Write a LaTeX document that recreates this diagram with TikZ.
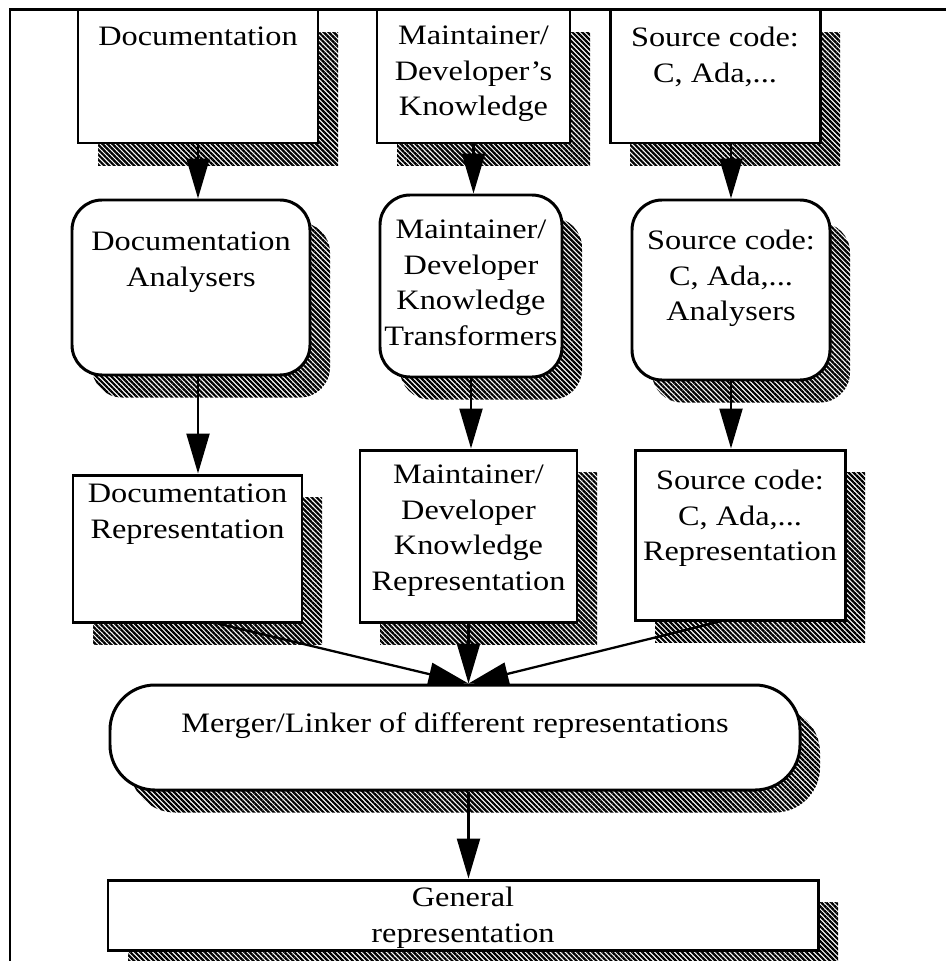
\documentclass[tikz,border=0pt]{standalone}
\usepackage{fontspec}
\setmainfont{Liberation Serif}[FakeStretch=1.15]
\usetikzlibrary{arrows.meta, positioning, shadows, patterns.meta}

\tikzset{
  hatch/.style={drop shadow={shadow xshift=0.4cm, shadow yshift=-0.45cm, opacity=1,
      pattern={Lines[angle=-45, distance=2pt, line width=1.25pt]}}},
  srcbox/.style={draw, line width=1.7pt, fill=white, hatch},
  toolbox/.style={srcbox, rounded corners=0.6cm},
  txt/.style={align=center, inner sep=0pt, font=\fontsize{16}{20.3}\selectfont},
  flow/.style={line width=1.3pt, -{Triangle[length=0.8cm, width=0.46cm]}}
}

\begin{document}
\begin{tikzpicture}
        \useasboundingbox (0,0) rectangle (18.92,-19.22);

        % Inputs
        \node[srcbox, minimum width=4.8cm, minimum height=2.66cm] (doc) at (3.96,-1.53) {};
        \node[srcbox, minimum width=3.86cm, minimum height=2.66cm] (mkn) at (9.47,-1.53) {};
        \node[srcbox, minimum width=4.2cm, minimum height=2.66cm] (src) at (14.3,-1.53) {};

        % frame
        \draw[line width=1.7pt] (0.2,-19.22) |- (18.92,-0.19);

        \node[txt, below=0.36cm of doc.north] (doct) {Documentation};
        \node[txt, below=0.34cm of mkn.north] (mknt) {Maintainer/\\Developer's\\Knowledge};
        \node[txt, below=0.36cm of src.north] (srct) {Source code:\\C, Ada,...};

        % Analysers
        \node[toolbox, minimum width=4.76cm, minimum height=3.5cm] (docan) at (3.82,-5.75) {};
        \node[toolbox, minimum width=3.64cm, minimum height=3.64cm] (mktr) at (9.42,-5.72) {};
        \node[toolbox, minimum width=3.96cm, minimum height=3.6cm] (srcan) at (14.62,-5.8) {};

        \node[txt, below=0.66cm of docan.north] (docant) {Documentation\\Analysers};
        \node[txt, below=0.52cm of mktr.north] (mktrt) {Maintainer/\\Developer\\Knowledge\\Transformers};
        \node[txt, below=0.62cm of srcan.north] (srcant) {Source code:\\C, Ada,...\\Analysers};

        % Representations
        \node[srcbox, minimum width=4.58cm, minimum height=2.94cm] (docrep) at (3.75,-10.97) {};
        \node[srcbox, minimum width=4.34cm, minimum height=3.44cm] (mkrep) at (9.37,-10.72) {};
        \node[srcbox, minimum width=4.2cm, minimum height=3.4cm] (srcrep) at (14.8,-10.7) {};

        \node[txt, below=0.2cm of docrep.north] (docrept) {Documentation\\Representation};
        \node[txt, below=0.32cm of mkrep.north] (mkrept) {Maintainer/\\Developer\\Knowledge\\Representation};
        \node[txt, below=0.42cm of srcrep.north] (srcrept) {Source code:\\C, Ada,...\\Representation};

        % Merger and result
        \node[srcbox, rounded corners=0.9cm, minimum width=13.8cm, minimum height=2.1cm] (merger) at (9.1,-14.75) {};
        \node[txt, below=0.58cm of merger.north] (mergert) {Merger/Linker of different representations};

        \node[srcbox, minimum width=14.2cm, minimum height=1.4cm] (gen) at (9.26,-18.3) {};
        \node[txt, below=0.16cm of gen.north] (gent) {General\\representation};

        % Arrows
        \draw[flow] (doc.south) -- (doc.south |- docan.north);
        \draw[flow] (mkn.south) -- (mkn.south |- mktr.north);
        \draw[flow] (srcan.north |- src.south) -- (srcan.north);

        \draw[flow] (doc.south |- docan.south) -- (doc.south |- docrep.north);
        \draw[flow] (mktr.south) -- (mktr.south |- mkrep.north);
        \draw[flow] (srcan.south) -- (srcan.south |- srcrep.north);

        \coordinate (join) at (mkrep.south |- merger.north);
        \draw[flow] ([xshift=0.6cm]docrep.south) -- (join);
        \draw[flow] (mkrep.south) -- (join);
        \draw[flow] ([xshift=-0.4cm]srcrep.south) -- (join);

        \draw[flow] (join |- merger.south) -- (join |- gen.north);
\end{tikzpicture}
\end{document}
